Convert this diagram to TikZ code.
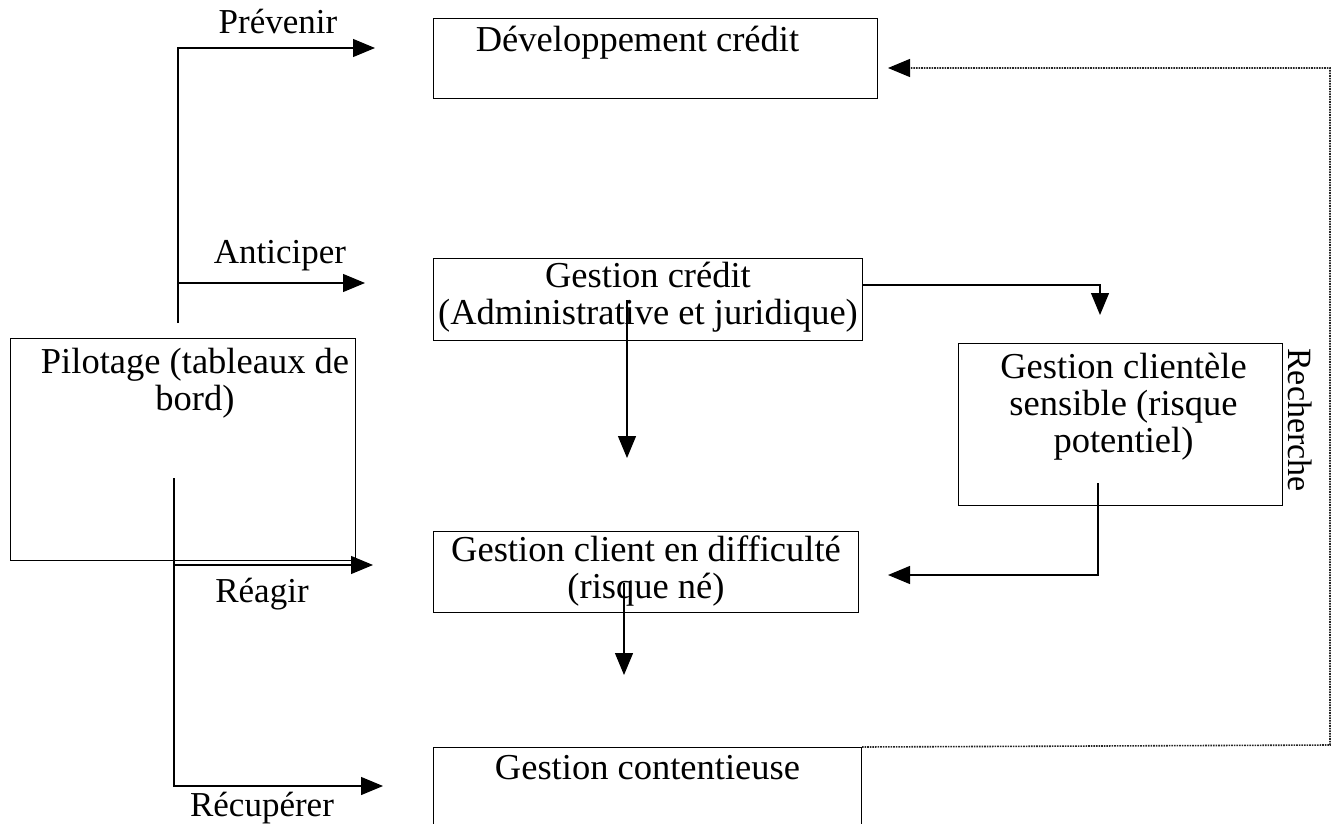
\documentclass[tikz,border=0pt]{standalone}
\usepackage{fontspec}
\setmainfont{Liberation Serif}
\usetikzlibrary{arrows.meta,calc}
\begin{document}
\begin{tikzpicture}[x=1pt,y=-1pt,
  box/.style={draw,line width=1pt,inner sep=0pt},
  boxtxt/.style={font=\fontsize{36.5}{37}\selectfont,align=center,inner sep=0pt},
  lbl/.style={font=\fontsize{35}{36}\selectfont,inner sep=0pt},
  arr/.style={line width=1.2pt,-{Triangle[length=22pt,width=18pt]}},
  dot/.style={line width=1.6pt,densely dotted,color=black!85}]
\useasboundingbox (0,0) rectangle (1335,824);
% boxes
\node[box,minimum width=444pt,minimum height=80pt,anchor=north west] (dev) at (433,18) {};
\node[boxtxt,anchor=north] at ([xshift=-18pt,yshift=-8pt]dev.north) {Développement crédit};
\node[box,minimum width=429pt,minimum height=82pt,anchor=north west] (gc) at (433,258) {};
\node[boxtxt,anchor=north] at ([yshift=-4pt]gc.north) {Gestion crédit\\(Administrative et juridique)};
\node[box,minimum width=345pt,minimum height=222pt,anchor=north west] (pil) at (10,338) {};
\node[boxtxt,anchor=north] at ([xshift=12pt,yshift=-10pt]pil.north) {Pilotage (tableaux de\\bord)};
\node[box,minimum width=324pt,minimum height=162pt,anchor=north west] (gcs) at (958,343) {};
\node[boxtxt,anchor=north] at ([xshift=3pt,yshift=-10pt]gcs.north) {Gestion clientèle\\sensible (risque\\potentiel)};
\node[box,minimum width=425pt,minimum height=81pt,anchor=north west] (gcd) at (433,531) {};
\node[boxtxt,anchor=north] at ([yshift=-5pt]gcd.north) {Gestion client en difficulté\\(risque né)};
\node[box,minimum width=428pt,minimum height=90pt,anchor=north west] (gct) at (433,747) {};
\node[boxtxt,anchor=north] at ([yshift=-8pt]gct.north) {Gestion contentieuse};
% labels
\node[lbl] (lprev) at (278,22) {Prévenir};
\node[lbl] (lant) at (280,256) {Anticiper};
\node[lbl] (lrea) at (262,594) {Réagir};
\node[lbl] (lrec) at (262,808) {Récupérer};
\node[font=\fontsize{34}{36}\selectfont,inner sep=0pt,rotate=-90] (rech) at (1300,420) {Recherche};
% coordinates
\coordinate (pU) at (178,323);
\coordinate (tPrev) at (375,48);
\coordinate (tAnt) at (365,283);
\coordinate (pL) at (174,478);
\coordinate (tRea) at (373,565);
\coordinate (tRec) at (383,786);
\coordinate (tCS) at (1100,315);
\coordinate (gcDown) at (627,300);
\coordinate (tGC) at (627,458);
\coordinate (gcsOut) at (1098,483);
\coordinate (tGCD) at (888,575);
\coordinate (gcdDown) at (624,583);
\coordinate (tGCDd) at (624,675);
\coordinate (rCorner) at (1330,745);
\coordinate (tDev) at (888,68);
% connectors
\draw[arr] (pU) |- (tPrev);
\draw[arr] (pU |- tAnt) -- (tAnt);
\draw[arr] (pL) |- (tRec);
\draw[arr] (pL |- tRea) -- (tRea);
\draw[arr] (gc.east |- 0,285) -| (tCS);
\draw[arr] (gcDown) -- (tGC);
\draw[arr] (gcsOut) |- (tGCD);
\draw[arr] (gcdDown) -- (tGCDd);
\draw[dot] (gct.north east) -- (rCorner) -- (rCorner |- tDev) -- ([xshift=10pt]tDev);
\draw[-{Triangle[length=22pt,width=18pt]},line width=1.2pt] ([xshift=11pt]tDev) -- (tDev);
\end{tikzpicture}
\end{document}
